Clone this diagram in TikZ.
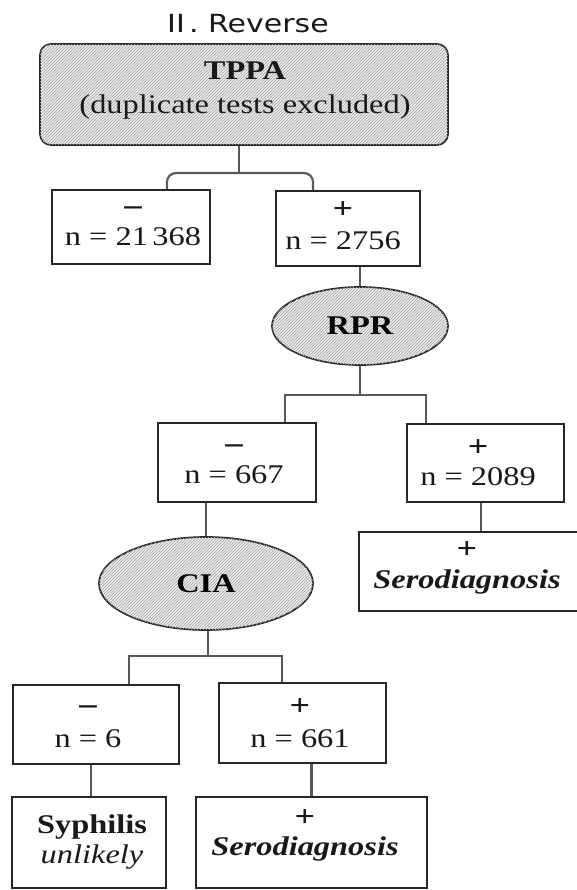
\documentclass[tikz,border=0pt]{standalone}
\usepackage{fontspec}
\setmainfont[FakeStretch=1.2]{Liberation Serif}
\newfontfamily\titlefont[FakeStretch=1.2]{DejaVu Sans}
\usetikzlibrary{shapes.geometric,patterns}

% signs set a little larger and heavier than the body text
\newcommand{\negsign}{{\fontsize{32}{31}\selectfont\bfseries −}}
\newcommand{\possign}{{\fontsize{30}{31}\selectfont\bfseries +}}

\tikzset{
  hatched/.style={fill=black!8, postaction={pattern=north east lines, pattern color=black!35}},
  box/.style={draw=black!85, line width=1.7pt, rectangle, inner sep=0pt},
  oval/.style={ellipse, draw=black!85, line width=1.7pt, inner sep=0pt, hatched,
               font=\fontsize{27}{31}\selectfont\bfseries},
  conn/.style={draw=black!65, line width=2.2pt},
  lbl/.style={align=center, font=\fontsize{27}{31}\selectfont, text=black!90, inner sep=0pt},
}

\begin{document}
\begin{tikzpicture}[x=1pt,y=-1pt]
\useasboundingbox (0,0) rectangle (577,890);
\fill[white] (0,0) rectangle (577,890);

% title
\node[font=\titlefont\fontsize{25}{28}\selectfont, text=black!90, inner sep=0pt] (title) at (248,24) {II\,. Reverse};

% first test
\node[box, hatched, rounded corners=11pt, minimum width=408pt, minimum height=101pt] (tppa) at (244,94.5) {};
\node[lbl] (tppaT) at (245,90) {\textbf{TPPA}\\[3pt](duplicate tests excluded)};

\node[box, minimum width=158pt, minimum height=74pt] (neg1) at (131,227) {};
\node[lbl] (neg1T) at (133,226) {\negsign\\[-4pt]n = 21\,368};
\node[box, minimum width=144pt, minimum height=75pt] (pos1) at (348,228.5) {};
\node[lbl] (pos1T) at (343,226) {\possign\\[0pt]n = 2756};

% second test
\node[oval, minimum width=176pt, minimum height=78pt] (rpr) at (360,326) {RPR};

\node[box, minimum width=158pt, minimum height=79pt] (neg2) at (237,462.5) {};
\node[lbl] (neg2T) at (234,464) {\negsign\\[-4pt]n = 667};
\node[box, minimum width=157pt, minimum height=78pt] (pos2) at (485.5,463) {};
\node[lbl] (pos2T) at (478,463) {\possign\\[-2pt]n = 2089};

\node[box, minimum width=223pt, minimum height=79pt] (sero1) at (470.5,571.5) {};
\node[lbl] (sero1T) at (467,568) {\possign\\[-1pt]\textbf{\textit{Serodiagnosis}}};

% third test
\node[oval, minimum width=214pt, minimum height=93pt] (cia) at (206,583.5) {CIA};

\node[box, minimum width=166pt, minimum height=79pt] (neg3) at (96,724.5) {};
\node[lbl] (neg3T) at (88,727) {\negsign\\[-1pt]n = 6};
\node[box, minimum width=167pt, minimum height=80pt] (pos3) at (302.5,723) {};
\node[lbl] (pos3T) at (300,723) {\possign\\[1pt]n = 661};

\node[box, minimum width=154pt, minimum height=91pt] (syph) at (89,842.5) {};
\node[lbl] (syphT) at (92,842) {\textbf{Syphilis}\\[-1pt]\textit{unlikely}};
\node[box, minimum width=231pt, minimum height=91pt] (sero2) at (311.5,842.5) {};
\node[lbl] (sero2T) at (305,835) {\possign\\[-2pt]\textbf{\textit{Serodiagnosis}}};

% connectors
\coordinate (j1) at (239,173);
\draw[conn] (tppa.south -| j1) -- (j1);
\draw[conn, rounded corners=9pt] ([xshift=36pt]neg1.north) |- (j1) -| ([xshift=-35pt]pos1.north);
\draw[conn] (rpr.north |- pos1.south) -- (rpr.north);

\coordinate (j2) at (360,395);
\draw[conn] (rpr.south) -- (j2);
\draw[conn] ([xshift=48pt]neg2.north) |- (j2) -| ([xshift=-59.5pt]pos2.north);
\draw[conn] (cia.north |- neg2.south) -- (cia.north);
\draw[conn] ([xshift=-4.5pt]pos2.south) -- ([xshift=-4.5pt]pos2.south |- sero1.north);

\coordinate (j3) at (208,656);
\draw[conn] (cia.south -| j3) -- (j3);
\draw[conn] ([xshift=33pt]neg3.north) |- (j3) -| ([xshift=-20.5pt]pos3.north);
\draw[conn] ([xshift=-5pt]neg3.south) -- ([xshift=-5pt]neg3.south |- syph.north);
\draw[conn] (sero2.north |- pos3.south) -- (sero2.north);
\end{tikzpicture}
\end{document}
